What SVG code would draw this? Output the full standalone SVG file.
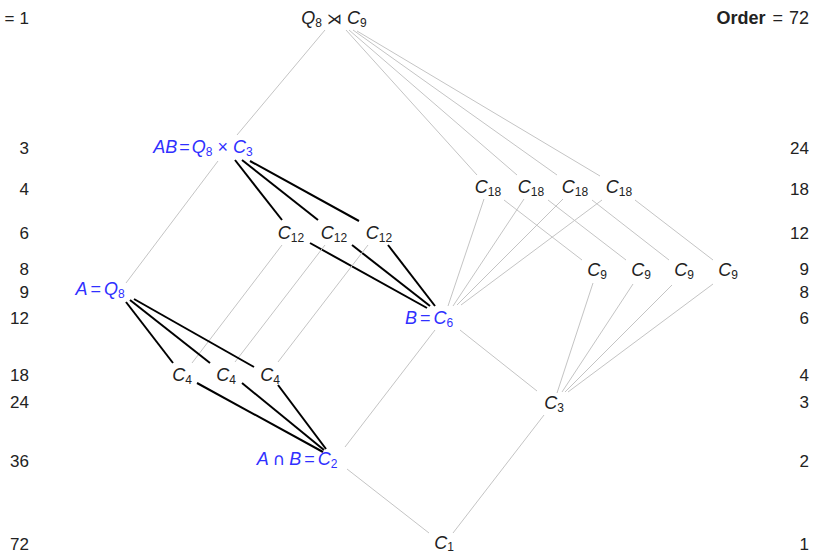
<svg xmlns="http://www.w3.org/2000/svg" width="813" height="553" viewBox="0 0 813 553">
  <style>
    text { font-family: "Liberation Sans", "DejaVu Sans", sans-serif; font-size: 18px; fill: #222; }
    .lbl { text-anchor: middle; }
    .num { text-anchor: end; font-size: 17px; }
    .it { font-style: italic; }
    .sub { font-size: 12px; }
    .op { font-family: "DejaVu Sans", sans-serif; font-size: 15px; }
    .blue, .blue tspan { fill: #3030ff; }
    .bold { font-weight: bold; }
    .thin { stroke: #c4c4c4; stroke-width: 1; fill: none; }
    .thick { stroke: #000; stroke-width: 2; fill: none; }
  </style>

  <rect width="813" height="553" fill="#fff"/>

  <!-- subgroup inclusions -->
  <g id="connectors">
    <!-- whole group down to Q8 x C3 and the C18s -->
    <line class="thin" x1="325" y1="30" x2="237" y2="135"/>
    <line class="thin" x1="346" y1="30" x2="477" y2="175"/>
    <line class="thin" x1="349" y1="30" x2="517" y2="175"/>
    <line class="thin" x1="353" y1="30" x2="557" y2="175"/>
    <line class="thin" x1="357" y1="31" x2="600" y2="176"/>
    <!-- Q8 x C3 to Q8 -->
    <line class="thin" x1="218" y1="161" x2="126" y2="283"/>
    <!-- Q8 x C3 to the C12s -->
    <line class="thick" x1="235" y1="160" x2="282" y2="220"/>
    <line class="thick" x1="242" y1="160" x2="318" y2="220"/>
    <line class="thick" x1="250" y1="161" x2="359" y2="221"/>
    <!-- C12s to C6 -->
    <line class="thick" x1="310" y1="243" x2="427" y2="308"/>
    <line class="thick" x1="352" y1="245" x2="430" y2="306"/>
    <line class="thick" x1="388" y1="245" x2="435" y2="306"/>
    <!-- C12s to C4s -->
    <line class="thin" x1="282" y1="245" x2="192" y2="363"/>
    <line class="thin" x1="325" y1="245" x2="235" y2="362"/>
    <line class="thin" x1="368" y1="245" x2="278" y2="362"/>
    <!-- C18s to C6 -->
    <line class="thin" x1="484" y1="199" x2="448" y2="306"/>
    <line class="thin" x1="524" y1="199" x2="453" y2="306"/>
    <line class="thin" x1="563" y1="199" x2="457" y2="305"/>
    <line class="thin" x1="602" y1="200" x2="461" y2="305"/>
    <!-- C18s to C9s -->
    <line class="thin" x1="504" y1="200" x2="582" y2="260"/>
    <line class="thin" x1="548" y1="200" x2="626" y2="260"/>
    <line class="thin" x1="592" y1="200" x2="669" y2="260"/>
    <line class="thin" x1="635" y1="200" x2="713" y2="260"/>
    <!-- C9s to C3 -->
    <line class="thin" x1="593" y1="283" x2="557" y2="393"/>
    <line class="thin" x1="633" y1="284" x2="562" y2="392"/>
    <line class="thin" x1="672" y1="285" x2="565" y2="392"/>
    <line class="thin" x1="713" y1="284" x2="568" y2="392"/>
    <!-- Q8 to C4s -->
    <line class="thick" x1="126" y1="302" x2="173" y2="363"/>
    <line class="thick" x1="130" y1="300" x2="210" y2="363"/>
    <line class="thick" x1="134" y1="299" x2="254" y2="367"/>
    <!-- C4s to C2 -->
    <line class="thick" x1="197" y1="383" x2="323" y2="452"/>
    <line class="thick" x1="242" y1="383" x2="324" y2="450"/>
    <line class="thick" x1="278" y1="385" x2="326" y2="449"/>
    <!-- C6 down -->
    <line class="thin" x1="435" y1="330" x2="345" y2="447"/>
    <line class="thin" x1="460" y1="330" x2="537" y2="391"/>
    <!-- into the trivial group -->
    <line class="thin" x1="347" y1="469" x2="429" y2="533"/>
    <line class="thin" x1="544" y1="415" x2="453" y2="533"/>
  </g>

  <!-- order scales -->
  <g id="scale-left">
    <text class="num" x="29" y="24">=<tspan dx="5">1</tspan></text>
    <text class="num" x="29" y="154">3</text>
    <text class="num" x="29" y="195">4</text>
    <text class="num" x="29" y="239">6</text>
    <text class="num" x="29" y="275">8</text>
    <text class="num" x="29" y="298">9</text>
    <text class="num" x="29" y="324">12</text>
    <text class="num" x="29" y="381">18</text>
    <text class="num" x="29" y="408">24</text>
    <text class="num" x="29" y="467">36</text>
    <text class="num" x="29" y="550">72</text>
  </g>
  <g id="scale-right">
    <text class="num" x="809" y="24" style="font-size:18px"><tspan class="bold">Order</tspan><tspan dx="7">=</tspan><tspan dx="6">72</tspan></text>
    <text class="num" x="809" y="154">24</text>
    <text class="num" x="809" y="195">18</text>
    <text class="num" x="809" y="239">12</text>
    <text class="num" x="809" y="275">9</text>
    <text class="num" x="809" y="298">8</text>
    <text class="num" x="809" y="324">6</text>
    <text class="num" x="809" y="381">4</text>
    <text class="num" x="809" y="408">3</text>
    <text class="num" x="809" y="467">2</text>
    <text class="num" x="809" y="550">1</text>
  </g>

  <!-- subgroups -->
  <g id="n-top"><text class="lbl" x="334" y="24"><tspan class="it">Q</tspan><tspan class="sub" dy="3">8</tspan><tspan class="op" dy="-3" dx="5">⋊</tspan><tspan class="it" dx="5">C</tspan><tspan class="sub" dy="3">9</tspan></text></g>
  <g id="n-AB"><text class="lbl blue" x="203" y="153"><tspan class="it">AB</tspan><tspan dx="2">=</tspan><tspan class="it" dx="2">Q</tspan><tspan class="sub" dy="3">8</tspan><tspan dy="-3" dx="5">×</tspan><tspan class="it" dx="5">C</tspan><tspan class="sub" dy="3">3</tspan></text></g>

  <g id="n-c18a"><text class="lbl" x="488" y="193"><tspan class="it">C</tspan><tspan class="sub" dy="3">18</tspan></text></g>
  <g id="n-c18b"><text class="lbl" x="531" y="193"><tspan class="it">C</tspan><tspan class="sub" dy="3">18</tspan></text></g>
  <g id="n-c18c"><text class="lbl" x="575" y="193"><tspan class="it">C</tspan><tspan class="sub" dy="3">18</tspan></text></g>
  <g id="n-c18d"><text class="lbl" x="619" y="193"><tspan class="it">C</tspan><tspan class="sub" dy="3">18</tspan></text></g>

  <g id="n-c12a"><text class="lbl" x="291" y="239"><tspan class="it">C</tspan><tspan class="sub" dy="3">12</tspan></text></g>
  <g id="n-c12b"><text class="lbl" x="334" y="239"><tspan class="it">C</tspan><tspan class="sub" dy="3">12</tspan></text></g>
  <g id="n-c12c"><text class="lbl" x="379" y="239"><tspan class="it">C</tspan><tspan class="sub" dy="3">12</tspan></text></g>

  <g id="n-c9a"><text class="lbl" x="597" y="276"><tspan class="it">C</tspan><tspan class="sub" dy="3">9</tspan></text></g>
  <g id="n-c9b"><text class="lbl" x="641" y="276"><tspan class="it">C</tspan><tspan class="sub" dy="3">9</tspan></text></g>
  <g id="n-c9c"><text class="lbl" x="684" y="276"><tspan class="it">C</tspan><tspan class="sub" dy="3">9</tspan></text></g>
  <g id="n-c9d"><text class="lbl" x="728" y="276"><tspan class="it">C</tspan><tspan class="sub" dy="3">9</tspan></text></g>

  <g id="n-A"><text class="lbl blue" x="100" y="295"><tspan class="it">A</tspan><tspan dx="3">=</tspan><tspan class="it" dx="3">Q</tspan><tspan class="sub" dy="3">8</tspan></text></g>
  <g id="n-B"><text class="lbl blue" x="429" y="324"><tspan class="it">B</tspan><tspan dx="3">=</tspan><tspan class="it" dx="3">C</tspan><tspan class="sub" dy="3">6</tspan></text></g>

  <g id="n-c4a"><text class="lbl" x="182" y="381"><tspan class="it">C</tspan><tspan class="sub" dy="3">4</tspan></text></g>
  <g id="n-c4b"><text class="lbl" x="226" y="381"><tspan class="it">C</tspan><tspan class="sub" dy="3">4</tspan></text></g>
  <g id="n-c4c"><text class="lbl" x="270" y="381"><tspan class="it">C</tspan><tspan class="sub" dy="3">4</tspan></text></g>

  <g id="n-c3"><text class="lbl" x="554" y="409"><tspan class="it">C</tspan><tspan class="sub" dy="3">3</tspan></text></g>
  <g id="n-AcapB"><text class="lbl blue" x="297" y="465"><tspan class="it">A</tspan><tspan class="op" dx="4" style="font-size:17px">∩</tspan><tspan class="it" dx="4">B</tspan><tspan dx="3">=</tspan><tspan class="it" dx="3">C</tspan><tspan class="sub" dy="3">2</tspan></text></g>
  <g id="n-c1"><text class="lbl" x="444" y="549"><tspan class="it">C</tspan><tspan class="sub" dy="2">1</tspan></text></g>
</svg>
